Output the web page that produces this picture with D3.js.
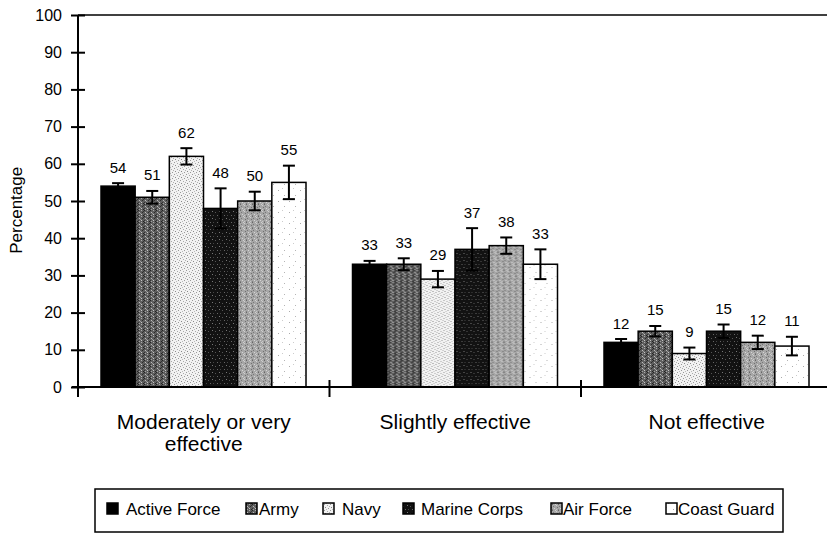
<!DOCTYPE html>
<html>
<head>
<meta charset="utf-8">
<script src="https://cdn.jsdelivr.net/npm/d3@7"></script>
<style>
  html, body { margin: 0; padding: 0; background: #fff; }
  svg { display: block; font-family: "Liberation Sans", Arial, Helvetica, sans-serif; }
</style>
</head>
<body>
<svg id="chart" width="827" height="536"></svg>
<script>
// Perceived effectiveness by service — percentages with error bars
const categories = ["Moderately or very effective", "Slightly effective", "Not effective"];
const categoryLines = [["Moderately or very", "effective"], ["Slightly effective"], ["Not effective"]];
const seriesNames = ["Active Force", "Army", "Navy", "Marine Corps", "Air Force", "Coast Guard"];

const activeForce = [54, 33, 12];
const army        = [51, 33, 15];
const navy        = [62, 29, 9];
const marineCorps = [48, 37, 15];
const airForce    = [50, 38, 12];
const coastGuard  = [55, 33, 11];

// half-width of each error bar, in percentage points
const activeForceErr = [0.8, 0.9, 0.9];
const armyErr        = [1.7, 1.6, 1.4];
const navyErr        = [2.2, 2.2, 1.6];
const marineCorpsErr = [5.4, 5.7, 1.8];
const airForceErr    = [2.5, 2.2, 1.8];
const coastGuardErr  = [4.5, 4.0, 2.5];

const yTicks = [0, 10, 20, 30, 40, 50, 60, 70, 80, 90, 100];

const seriesValues = [activeForce, army, navy, marineCorps, airForce, coastGuard];
const seriesErrs = [activeForceErr, armyErr, navyErr, marineCorpsErr, airForceErr, coastGuardErr];
const fillIds = ["pActive", "pArmy", "pNavy", "pMarine", "pAir", "pCoast"];

const svg = d3.select("#chart");

// ---- stipple textures ----
const defs = svg.append("defs");
function pattern(id, size, bg, dots) {
  const p = defs.append("pattern").attr("id", id)
    .attr("patternUnits", "userSpaceOnUse").attr("width", size).attr("height", size);
  p.append("rect").attr("width", size).attr("height", size).attr("fill", bg);
  dots.forEach(([x, y, c]) => p.append("rect").attr("x", x).attr("y", y)
    .attr("width", 1).attr("height", 1).attr("fill", c));
}
pattern("pActive", 4, "#000", []);
pattern("pArmy", 6, "#5e5e5e", [
  [0,0,"#222"],[3,0,"#aaa"],[5,1,"#333"],[1,2,"#bbb"],[4,2,"#2a2a2a"],
  [2,3,"#999"],[0,4,"#333"],[3,4,"#c4c4c4"],[5,5,"#222"],[1,5,"#a0a0a0"]]);
pattern("pNavy", 6, "#f2f2f2", [
  [0,0,"#999"],[3,1,"#aaa"],[1,3,"#8a8a8a"],[4,4,"#999"],[2,5,"#bbb"],[5,2,"#b0b0b0"]]);
pattern("pMarine", 7, "#121212", [
  [1,1,"#777"],[4,2,"#555"],[6,5,"#666"],[2,5,"#444"]]);
pattern("pAir", 6, "#a6a6a6", [
  [0,0,"#666"],[3,0,"#d0d0d0"],[1,2,"#777"],[4,1,"#cfcfcf"],[5,3,"#707070"],
  [2,4,"#d4d4d4"],[0,5,"#808080"],[4,5,"#c8c8c8"]]);
pattern("pCoast", 11, "#fff", [[2,3,"#aaa"],[8,8,"#b5b5b5"],[6,1,"#ccc"]]);

// ---- scales ----
const x0 = d3.scaleBand().domain(categories).range([78, 78 + 251.5 * 3]).padding(0);
const x1 = d3.scaleBand().domain(seriesNames).range([23, 228]).padding(0);
const y = d3.scaleLinear().domain([0, 100]).range([387, 15]);

// top frame line
svg.append("line").attr("x1", x0.range()[0]).attr("x2", 827)
  .attr("y1", y(100)).attr("y2", y(100)).attr("stroke", "#000").attr("stroke-width", 1.5);

// ---- bars ----
const groups = svg.append("g").selectAll("g").data(categories).join("g")
  .attr("transform", d => `translate(${x0(d)},0)`);

groups.each(function(cat, ci) {
  const g = d3.select(this);
  seriesNames.forEach((s, si) => {
    const v = seriesValues[si][ci];
    const e = seriesErrs[si][ci];
    const bx = x1(s), bw = x1.bandwidth();
    g.append("rect").attr("x", bx).attr("y", y(v)).attr("width", bw)
      .attr("height", y(0) - y(v)).attr("fill", `url(#${fillIds[si]})`)
      .attr("stroke", "#000").attr("stroke-width", 1.5);
    const cx = bx + bw / 2;
    const eb = g.append("g").attr("stroke", "#000").attr("stroke-width", 2);
    eb.append("line").attr("x1", cx).attr("x2", cx).attr("y1", y(v + e)).attr("y2", y(v - e));
    eb.append("line").attr("x1", cx - 6).attr("x2", cx + 6).attr("y1", y(v + e)).attr("y2", y(v + e));
    eb.append("line").attr("x1", cx - 6).attr("x2", cx + 6).attr("y1", y(v - e)).attr("y2", y(v - e));
    g.append("text").attr("x", cx).attr("y", y(v + e) - 10.5)
      .attr("text-anchor", "middle").attr("font-size", 15).attr("fill", "#000").text(v);
  });
});

// ---- y axis ----
const yAxis = svg.append("g").attr("transform", `translate(${x0.range()[0]},0)`)
  .call(d3.axisLeft(y).tickValues(yTicks).tickSize(7).tickPadding(9));
yAxis.select(".domain").attr("stroke-width", 2).attr("d", `M0,${y(0)}V${y(100)}`);
yAxis.selectAll(".tick line").attr("x1", 7).attr("stroke-width", 2);
yAxis.selectAll(".tick text").attr("font-size", 16).attr("fill", "#000")
  .attr("font-family", "'Liberation Sans', Arial, sans-serif");

svg.append("text").attr("transform", `translate(22,${y(47.5)}) rotate(-90)`)
  .attr("text-anchor", "middle").attr("font-size", 17).text("Percentage");

// ---- x axis ----
const xAxisG = svg.append("g");
xAxisG.append("line").attr("x1", x0.range()[0] - 6).attr("x2", 827)
  .attr("y1", y(0)).attr("y2", y(0)).attr("stroke", "#000").attr("stroke-width", 2);
categories.forEach(c => {
  const bx = x0(c);
  xAxisG.append("line").attr("x1", bx).attr("x2", bx)
    .attr("y1", y(0) - 7).attr("y2", y(0) + 10).attr("stroke", "#000").attr("stroke-width", 2);
});
categories.forEach((c, ci) => {
  const t = xAxisG.append("text").attr("text-anchor", "middle").attr("font-size", 21)
    .attr("x", x0(c) + x0.bandwidth() / 2).attr("y", 429);
  categoryLines[ci].forEach((ln, li) => {
    t.append("tspan").attr("x", x0(c) + x0.bandwidth() / 2).attr("dy", li === 0 ? 0 : 22).text(ln);
  });
});

// ---- legend ----
const legend = svg.append("g");
legend.append("rect").attr("x", 95).attr("y", 489).attr("width", 688).attr("height", 43)
  .attr("fill", "#fff").attr("stroke", "#000").attr("stroke-width", 1.5);
const swatchX = [107, 246, 323, 403, 551, 666];
const labelX  = [126, 259, 342, 421, 563, 678];
seriesNames.forEach((s, si) => {
  legend.append("rect").attr("x", swatchX[si]).attr("y", 503).attr("width", 11).attr("height", 11)
    .attr("fill", `url(#${fillIds[si]})`).attr("stroke", "#000").attr("stroke-width", 1.5);
  legend.append("text").attr("x", labelX[si]).attr("y", 515).attr("font-size", 17).text(s);
});
</script>
</body>
</html>
